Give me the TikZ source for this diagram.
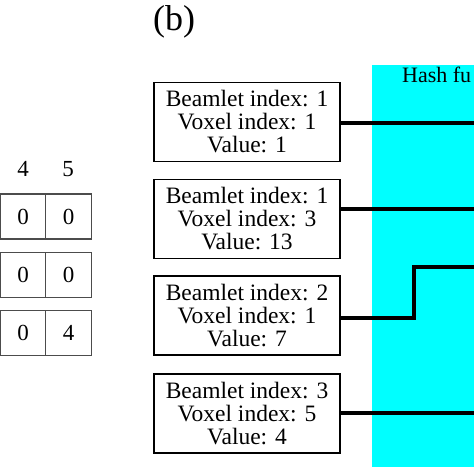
\documentclass[tikz,border=0pt]{standalone}
\usepackage{fontspec}
\setmainfont{Liberation Serif}
\definecolor{hashcyan}{RGB}{0,255,255}
\begin{document}
\begin{tikzpicture}[x=1pt,y=-1pt,
  infobox/.style={draw=black,line width=1.8pt,minimum width=186pt,minimum height=79pt,inner sep=0pt,align=center,font=\fontsize{23.5}{23}\selectfont},
  cell/.style={draw=black!70,line width=1.3pt,minimum width=45.5pt,minimum height=45pt,inner sep=0pt,font=\fontsize{23}{24}\selectfont},
  collabel/.style={font=\fontsize{23}{24}\selectfont},
  link/.style={line width=3.2pt,line cap=rect}]
\useasboundingbox (0,0) rectangle (474,474);
\clip (0,0) rectangle (474,474);
% cyan hash-function band
\fill[hashcyan] (372,65) rectangle (480,467);
\node[anchor=base west,font=\fontsize{22}{24}\selectfont,inner sep=0pt] (hash) at (402,82) {Hash fu};
% panel label
\node[font=\fontsize{36}{38}\selectfont,inner sep=0pt] (lab) at (174,22) {(b)};
% left matrix
\node[collabel] (c4) at (23,169) {4};
\node[collabel] (c5) at (68,169) {5};
\node[cell] (r1a) at (23,216.5) {0};
\node[cell] (r1b) at (68.5,216.5) {0};
\node[cell] (r2a) at (23,275) {0};
\node[cell] (r2b) at (68.5,275) {0};
\node[cell] (r3a) at (23,333) {0};
\node[cell] (r3b) at (68.5,333) {4};
% info boxes
\node[infobox] (b1) at (247,122) {Beamlet index: 1\\Voxel index: 1\\Value: 1};
\node[infobox] (b2) at (247,219) {Beamlet index: 1\\Voxel index: 3\\Value: 13};
\node[infobox] (b3) at (247,315.5) {Beamlet index: 2\\Voxel index: 1\\Value: 7};
\node[infobox] (b4) at (247,413.5) {Beamlet index: 3\\Voxel index: 5\\Value: 4};
% connector ends
\coordinate (e1) at (480,123);
\coordinate (e2) at (480,209);
\coordinate (k3) at (414,267);
\coordinate (e3) at (480,267);
\coordinate (e4) at (480,413);
\draw[link] (b1.east |- e1) -- (e1);
\draw[link] (b2.east |- e2) -- (e2);
\draw[link] (b3.east |- 0,318) -| (k3) -- (e3);
\draw[link] (b4.east |- e4) -- (e4);
\end{tikzpicture}
\end{document}
